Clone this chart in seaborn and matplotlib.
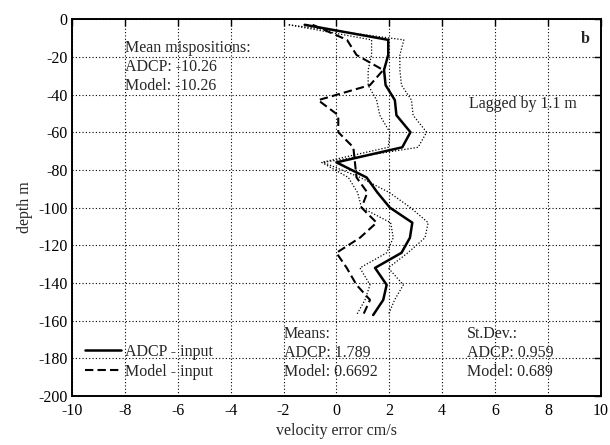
import numpy as np
import pandas as pd
import matplotlib
matplotlib.use("Agg")
import matplotlib.pyplot as plt
import seaborn as sns

# ---- data ----
depth = [-3, -11, -19, -27, -35, -43, -51, -60, -68, -76,
         -84, -92, -100, -108, -116, -124, -132, -141, -149, -157]
adcp_err = [-1.2, 1.96, 1.96, 1.80, 1.86, 2.21, 2.27, 2.80, 2.49, 0.0,
            1.14, 1.55, 2.02, 2.87, 2.78, 2.46, 1.46, 1.90, 1.77, 1.39]
model_err = [-0.9, 0.4, 0.76, 1.77, 1.27, -0.69, 0.07, 0.07, 0.64, 0.70,
             0.76, 1.17, 0.95, 1.52, 0.89, 0.0, 0.39, 0.76, 1.27, 1.01]
upper_err = [-1.8, 2.55, 2.40, 2.40, 2.46, 2.84, 2.90, 3.41, 3.09, -0.5,
             0.9, 2.0, 2.8, 3.47, 3.35, 2.7, 1.96, 2.53, 2.2, 1.96]
lower_err = [-1.8, 1.33, 1.33, 1.20, 1.20, 1.52, 1.64, 2.02, 1.96, -0.56,
             0.45, 0.8, 0.95, 2.05, 2.15, 1.90, 0.89, 1.27, 1.08, 0.76]

x_ticks = [-10, -8, -6, -4, -2, 0, 2, 4, 6, 8, 10]
y_ticks = [0, -20, -40, -60, -80, -100, -120, -140, -160, -180, -200]

mispos_lines = ["Mean mispositions:", "ADCP: -10.26", "Model: -10.26"]
means_lines = ["Means:", "ADCP: 1.789", "Model: 0.6692"]
std_lines = ["St.Dev.:", "ADCP: 0.959", "Model: 0.689"]
lag_text = "Lagged by 1.1 m"
panel_label = "b"
legend_labels = ["ADCP - input", "Model - input"]

df = pd.DataFrame({"depth": depth, "adcp": adcp_err, "model": model_err,
                   "upper": upper_err, "lower": lower_err})

sns.set_style("white")
plt.rcParams["font.family"] = ["Liberation Serif", "DejaVu Serif"]
plt.rcParams["axes.unicode_minus"] = False

fig = plt.figure(figsize=(6.1, 4.45), dpi=100)
ax = fig.add_axes([0.118, 0.110, 0.867, 0.847])

ax.grid(True, color="black", linestyle=(0, (1, 2)), linewidth=0.8)
ax.set_axisbelow(True)

sns.lineplot(data=df, x="upper", y="depth", sort=False, estimator=None, ax=ax,
             color="black", linewidth=0.9, linestyle=(0, (1, 1.5)))
sns.lineplot(data=df, x="lower", y="depth", sort=False, estimator=None, ax=ax,
             color="black", linewidth=0.9, linestyle=(0, (1, 1.5)))
sns.lineplot(data=df, x="model", y="depth", sort=False, estimator=None, ax=ax,
             color="black", linewidth=1.5, linestyle=(0, (4, 2)),
             label=legend_labels[1])
sns.lineplot(data=df, x="adcp", y="depth", sort=False, estimator=None, ax=ax,
             color="black", linewidth=1.8, linestyle="-",
             label=legend_labels[0])

ax.set_xlim(-10, 10)
ax.set_ylim(-200, 0)
ax.set_xticks(x_ticks)
ax.set_yticks(y_ticks)
ax.set_xticklabels([str(v) for v in x_ticks])
ax.set_yticklabels([str(v) for v in y_ticks])
ax.tick_params(direction="in", length=5, width=1, top=True, right=True,
               labelsize=11.5, colors="black", pad=3)
ax.tick_params(axis="x", pad=5)
for s in ax.spines.values():
    s.set_visible(True)
    s.set_color("black")
    s.set_linewidth(1.4)

ax.set_xlabel("velocity error cm/s", fontsize=11.5, labelpad=3)
ax.set_ylabel("depth m", fontsize=11.5, labelpad=4)

tfs = 11.5
for i, t in enumerate(mispos_lines):
    ax.text(-8.0, -15.5 - 10 * i, t, fontsize=tfs, va="center", ha="left")
for i, t in enumerate(means_lines):
    ax.text(-2.0, -167 - 10 * i, t, fontsize=tfs, va="center", ha="left")
for i, t in enumerate(std_lines):
    ax.text(4.95, -167 - 10 * i, t, fontsize=tfs, va="center", ha="left")
ax.text(5.0, -45, lag_text, fontsize=tfs, va="center", ha="left")
ax.text(9.4, -10.5, panel_label, fontsize=tfs, va="center", ha="center",
        fontweight="bold")

h, l = ax.get_legend_handles_labels()
order = [l.index(legend_labels[0]), l.index(legend_labels[1])]
leg = ax.legend([h[i] for i in order], [l[i] for i in order],
                loc="lower left", bbox_to_anchor=(0.012, 0.026),
                frameon=False, fontsize=tfs, handlelength=2.25,
                handletextpad=0.25, labelspacing=0.25, borderaxespad=0)

fig.savefig("out.png", dpi=100, facecolor="white")
